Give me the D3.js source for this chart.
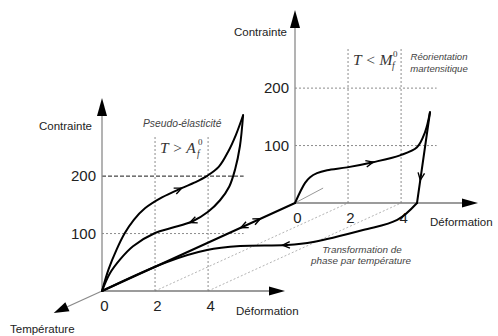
<!DOCTYPE html>
<html>
<head>
<meta charset="utf-8">
<script src="https://cdn.jsdelivr.net/npm/d3@7"></script>
<style>
  body { margin: 0; background: #fff; }
  svg { display: block; font-family: "Liberation Sans", Arial, sans-serif; }
</style>
</head>
<body>
<svg id="chart" width="498" height="336"></svg>
<script>
// ---- data ------------------------------------------------------------
const strainTicks = [0, 2, 4];          // Déformation (%)
const stressTicks = [100, 200];         // Contrainte (MPa)

// pseudo-elastic loop, T > Af (front plane), [strain, stress]
const superLoad = [[0,0],[0.25,38],[0.55,72],[0.85,100],[1.2,124],[1.62,144],[2.26,163],
                   [3.0,179],[3.5,189],[3.95,200],[4.4,216],[4.75,242],[5.05,272],[5.32,306]];
const superUnload = [[5.32,306],[5.2,252],[5.02,212],[4.8,182],[4.45,158],[4.0,138],
                     [3.4,121],[2.64,110],[2.0,101],[1.17,78],[0.7,56],[0.3,31],[0,0]];

// martensite reorientation, T < Mf (back plane), [strain, stress]
const martLoad = [[0,0],[0.38,35],[0.57,45],[0.83,52],[1.21,57],[1.96,62],[2.94,71],
                  [3.96,83],[4.6,97],[4.9,123],[5.09,158]];
const martUnload = [[5.09,158],[4.6,0]];
const martElastic = [[0,0],[1.06,26]];

// shape recovery on heating, zero stress: strain vs. temperature depth (1 = cold, 0 = hot)
const recoveryStrain = [4.6, 5.26, 4.8, 3.91, 3.17, 1.49, 0.57, 0.05, 0];
const recoveryDepth  = [1.0, 0.807, 0.693, 0.557, 0.523, 0.511, 0.466, 0.33, 0];

// ---- projection ------------------------------------------------------
const svg = d3.select("#chart");
const x = d3.scaleLinear().domain([0, 6.9]).range([102, 285]);
const y = d3.scaleLinear().domain([0, 336]).range([291, 98]);
const depthX = d3.scaleLinear().domain([0, 1]).range([0, 193]);
const depthY = d3.scaleLinear().domain([0, 1]).range([0, -88]);
const P = (e, s, d) => [x(e) + depthX(d), y(s) + depthY(d)];

const line = d3.line().curve(d3.curveCatmullRom.alpha(0.5));
const straight = d3.line();

const gGrid = svg.append("g");
const gAxes = svg.append("g");
const gCurves = svg.append("g");
const gText = svg.append("g");

// ---- dotted guides along the temperature direction -------------------
strainTicks.filter(v => v > 0).forEach(v => {
  gGrid.append("path")
    .attr("d", straight([P(v, 0, 0), P(v, 0, 1)]))
    .attr("fill", "none").attr("stroke", "#b4b4b4")
    .attr("stroke-width", 1).attr("stroke-dasharray", "2,2");
});

// ---- the two stress–strain planes ------------------------------------
const panels = [
  { depth: 0, darkTop: true },
  { depth: 1, darkTop: false }
];

panels.forEach(p => {
  const d = p.depth;
  // vertical grid
  strainTicks.filter(v => v > 0).forEach(v => {
    gGrid.append("path")
      .attr("d", straight([P(v, 0, d), P(v, 271, d)]))
      .attr("fill", "none").attr("stroke", "#8c8c8c")
      .attr("stroke-width", 1).attr("stroke-dasharray", "2,2");
  });
  // horizontal grid
  stressTicks.forEach(v => {
    const dark = p.darkTop && v === 200;
    gGrid.append("path")
      .attr("d", straight([P(0, v, d), P(5.34, v, d)]))
      .attr("fill", "none").attr("stroke", dark ? "#1a1a1a" : "#8c8c8c")
      .attr("stroke-width", 1).attr("stroke-dasharray", dark ? "4,2" : "2,2");
  });

  const ox = depthX(d), oy = depthY(d);

  // strain axis
  gAxes.append("path")
    .attr("d", straight([P(0, 0, d), P(6.3, 0, d)]))
    .attr("stroke", "#7a7a7a").attr("stroke-width", 1.3);
  const xt = P(6.9, 0, d);
  gAxes.append("path")
    .attr("d", `M${xt[0]},${xt[1]}L${xt[0]-16},${xt[1]-4.5}L${xt[0]-16},${xt[1]+4.5}Z`)
    .attr("fill", "#000");

  // stress axis
  gAxes.append("path")
    .attr("d", straight([P(0, 0, d), P(0, 310, d)]))
    .attr("stroke", "#8a8a8a").attr("stroke-width", 1.3);
  const yt = P(0, 336, d);
  gAxes.append("path")
    .attr("d", `M${yt[0]},${yt[1]}L${yt[0]-5},${yt[1]+18}L${yt[0]+5},${yt[1]+18}Z`)
    .attr("fill", "#000");

  // tick labels
  const ax = gAxes.append("g").attr("transform", `translate(${ox},${oy + y(0)})`)
    .call(d3.axisBottom(x).tickValues(strainTicks).tickSize(0).tickPadding(9)
      .tickFormat(d3.format("d")));
  ax.select(".domain").remove();
  ax.selectAll("text").attr("font-size", 15).attr("fill", "#222")
    .attr("font-family", "Liberation Sans, Arial, sans-serif").attr("dx", 2);

  const ay = gAxes.append("g").attr("transform", `translate(${ox + x(0)},${oy})`)
    .call(d3.axisLeft(y).tickValues(stressTicks).tickSize(0).tickPadding(6)
      .tickFormat(d3.format("d")));
  ay.select(".domain").remove();
  ay.selectAll("text").attr("font-size", 15).attr("fill", "#222")
    .attr("font-family", "Liberation Sans, Arial, sans-serif");
});

// temperature axis (towards the viewer = hotter)
{
  const o = P(0, 0, 0), t = P(0, 0, -0.25);
  const ang = Math.atan2(t[1] - o[1], t[0] - o[0]);
  const b = [t[0] - 15 * Math.cos(ang), t[1] - 15 * Math.sin(ang)];
  gAxes.append("path").attr("d", straight([o, b]))
    .attr("stroke", "#8a8a8a").attr("stroke-width", 1.3);
  const n = [-Math.sin(ang) * 5, Math.cos(ang) * 5];
  gAxes.append("path")
    .attr("d", `M${t}L${b[0]+n[0]},${b[1]+n[1]}L${b[0]-n[0]},${b[1]-n[1]}Z`)
    .attr("fill", "#000");
}

// ---- curves ----------------------------------------------------------
function curve(pts, gen) {
  return gCurves.append("path")
    .attr("d", (gen || line)(pts))
    .attr("fill", "none").attr("stroke", "#000")
    .attr("stroke-width", 2).attr("stroke-linejoin", "round")
    .attr("stroke-linecap", "round");
}

function chevron(pathSel, target, flip) {
  const node = pathSel.node();
  const L = node.getTotalLength();
  let best = 0, bd = Infinity;
  for (let l = 0; l <= L; l += 0.5) {
    const q = node.getPointAtLength(l);
    const dd = (q.x - target[0]) ** 2 + (q.y - target[1]) ** 2;
    if (dd < bd) { bd = dd; best = l; }
  }
  const a = node.getPointAtLength(Math.max(0, best - 2));
  const b = node.getPointAtLength(Math.min(L, best + 2));
  let ang = Math.atan2(b.y - a.y, b.x - a.x);
  if (flip) ang += Math.PI;
  const tip = node.getPointAtLength(best);
  const len = 8, spread = 0.42;
  const p1 = [tip.x - len * Math.cos(ang - spread), tip.y - len * Math.sin(ang - spread)];
  const p2 = [tip.x - len * Math.cos(ang + spread), tip.y - len * Math.sin(ang + spread)];
  gCurves.append("path")
    .attr("d", `M${p1}L${tip.x},${tip.y}L${p2}`)
    .attr("fill", "none").attr("stroke", "#000").attr("stroke-width", 1.4)
    .attr("stroke-linejoin", "miter");
}

// back plane: elastic slope hint
gCurves.append("path")
  .attr("d", straight(martElastic.map(d => P(d[0], d[1], 1))))
  .attr("stroke", "#999").attr("stroke-width", 1);

const cSL = curve(superLoad.map(d => P(d[0], d[1], 0)));
const cSU = curve(superUnload.map(d => P(d[0], d[1], 0)));
const cML = curve(martLoad.map(d => P(d[0], d[1], 1)));
const cMU = curve(martUnload.map(d => P(d[0], d[1], 1)), straight);
const cCool = curve([P(0, 0, 0), P(0, 0, 1)], straight);
const cHeat = curve(recoveryStrain.map((e, i) => P(e, 0, recoveryDepth[i])));

chevron(cSL, P(3.0, 179, 0));
chevron(cSU, P(3.3, 120, 0));
chevron(cML, P(2.94, 71, 1));
chevron(cMU, P(4.72, 40, 1));
chevron(cCool, P(0, 0, 0.72), true);
chevron(cCool, P(0, 0, 0.82), false);
chevron(cHeat, P(3.0, 0, 0.523));

// ---- labels ----------------------------------------------------------
const sans = "Liberation Sans, Arial, sans-serif";
const serif = "Liberation Serif, Times New Roman, serif";

function label(txt, px, py, size, opts) {
  opts = opts || {};
  return gText.append("text").text(txt)
    .attr("x", px).attr("y", py)
    .attr("font-size", size)
    .attr("font-family", opts.family || sans)
    .attr("font-style", opts.italic ? "italic" : "normal")
    .attr("text-anchor", opts.anchor || "start")
    .attr("fill", opts.fill || "#222");
}

// axis titles
{
  const f = P(0, 0, 0), b = P(0, 0, 1);
  label("Contrainte", f[0] - 10, 130, 11.5, { anchor: "end" });
  label("Contrainte", b[0] - 8, 36, 11.5, { anchor: "end" });
  label("Déformation", x(0) + 134, 315, 11.5);
  label("Déformation", b[0] + 135, 226, 11.5);
  label("Température", 10, 333, 11.5);
}

// regime annotations
label("Pseudo-élasticité", 143, 127, 10.3, { italic: true, fill: "#444" });
label("T > A", 160, 153, 15.5, { italic: true, family: serif, fill: "#333" });
label("0", 198, 145, 9, { family: serif, fill: "#333" });
label("f", 197, 157, 9.5, { italic: true, family: serif, fill: "#333" });

label("T < M", 353, 65, 15.5, { italic: true, family: serif, fill: "#333" });
label("0", 393, 57, 9, { family: serif, fill: "#333" });
label("f", 392, 69, 9.5, { italic: true, family: serif, fill: "#333" });

label("Réorientation", 439, 60, 9.6, { italic: true, anchor: "middle", fill: "#444" });
label("martensitique", 439, 72, 9.6, { italic: true, anchor: "middle", fill: "#444" });

label("Transformation de", 362, 253, 9.9, { italic: true, anchor: "middle", fill: "#444" });
label("phase par température", 361, 264, 9.9, { italic: true, anchor: "middle", fill: "#444" });
</script>
</body>
</html>
